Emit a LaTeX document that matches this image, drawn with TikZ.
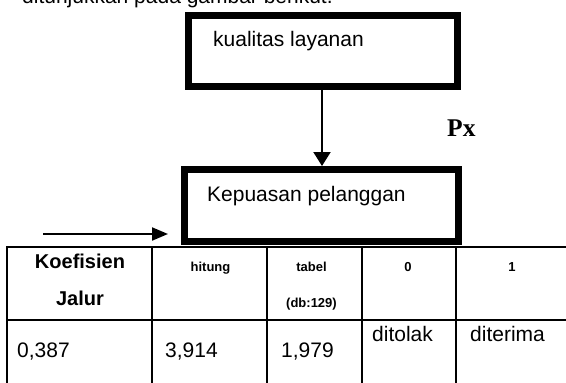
\documentclass[tikz,border=0pt]{standalone}
\usepackage{fontspec}
\setmainfont{Liberation Sans}
\newfontfamily\serifb{Liberation Serif}
\usetikzlibrary{arrows.meta,calc}
\begin{document}
\begin{tikzpicture}[x=1pt,y=-1pt,
  box/.style={draw, line width=7pt, rectangle, inner sep=0pt, fill=white},
  txt/.style={inner sep=0pt, anchor=base west, font=\fontsize{21}{24}\selectfont},
  hb/.style={inner sep=0pt, anchor=base, font=\fontsize{20}{24}\selectfont\bfseries},
  hs/.style={inner sep=0pt, anchor=base, font=\fontsize{13}{15}\selectfont\bfseries},
  gridline/.style={line width=2pt},
  conn/.style={line width=2pt}]
\useasboundingbox (0,0) rectangle (566,383);
\clip (0,0) rectangle (566,383);
% cut-off intro line
\node[txt] (intro) at (22,3.5) {ditunjukkan pada gambar berikut.};
% boxes
\node[box, minimum width=269pt, minimum height=71pt] (kl) at (323,51) {};
\node[txt] (kltxt) at (213,46.5) {kualitas layanan};
% table lines
\draw[gridline] (6,247) -- (570,247);
\draw[gridline] (6,320) -- (570,320);
\draw[gridline] (6.5,246) -- (6.5,390);
\draw[gridline] (152,247) -- (152,390);
\draw[gridline] (266.5,247) -- (266.5,390);
\draw[gridline] (361.5,247) -- (361.5,390);
\draw[gridline] (456,247) -- (456,390);
\node[box, minimum width=274pt, minimum height=72pt] (kp) at (321.5,205.5) {};
\node[txt] (kptxt) at (207,201) {Kepuasan pelanggan};
% connectors
\draw[conn, -{Triangle[length=14pt,width=17pt]}] (kl.south -| 322,0) -- (kp.north -| 322,0);
\node[inner sep=0pt, anchor=base west, font=\fontsize{25.5}{27}\selectfont\serifb\bfseries] (px) at (447,136) {Px};
\coordinate (la) at (43,234);
\draw[conn, -{Triangle[length=16pt,width=13pt]}] (la) -- ([xshift=-13pt]kp.west |- la);
% table header
\node[hb] (h1a) at (80,268) {Koefisien};
\node[hb] (h1b) at (80,305) {Jalur};
\node[hs] (h2) at (210.5,271) {hitung};
\node[hs] (h3a) at (311.5,271) {tabel};
\node[hs] (h3b) at (311.5,307) {(db:129)};
\node[hs] (h4) at (408,271) {0};
\node[hs] (h5) at (512,271) {1};
% table body
\node[txt] (v1) at (17,357) {0,387};
\node[txt] (v2) at (165,357) {3,914};
\node[txt] (v3) at (281,357) {1,979};
\node[txt] (v4) at (372,341) {ditolak};
\node[txt] (v5) at (470,341) {diterima};
\end{tikzpicture}
\end{document}
